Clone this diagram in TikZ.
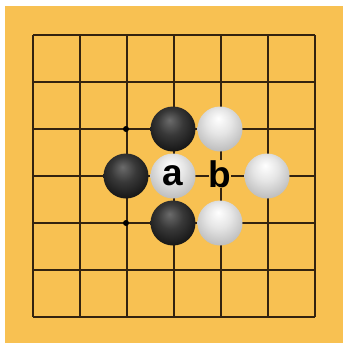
\documentclass[tikz,border=0pt]{standalone}
\usepackage{fontspec}
\setmainfont{Liberation Sans}
\definecolor{board}{HTML}{F8C152}
\definecolor{gridline}{HTML}{34230F}
\pgfdeclareradialshading{blackstone}{\pgfpoint{-4bp}{10bp}}{color(0bp)=(black!58); color(14bp)=(black!78); color(30bp)=(black!92); color(50bp)=(black)}
\pgfdeclareradialshading{whitestone}{\pgfpoint{-2bp}{12bp}}{color(0bp)=(white); color(14bp)=(black!10); color(32bp)=(black!28); color(50bp)=(black!48)}
\tikzset{
  bstone/.style={circle, minimum size=45pt, inner sep=0pt, shading=blackstone},
  wstone/.style={circle, minimum size=45pt, inner sep=0pt, shading=whitestone},
  hoshi/.style={circle, fill=black, minimum size=6pt, inner sep=0pt},
  letter/.style={font=\fontsize{37}{37}\selectfont\bfseries, text=black, inner sep=0pt},
  grid line/.style={draw=gridline, line width=1.7pt}
}
\begin{document}
\begin{tikzpicture}[x=1pt,y=-1pt]
\useasboundingbox (0,0) rectangle (343,343);
\fill[white] (0,0) rectangle (343,343);
\fill[board] (5,6) rectangle (343,343);
\foreach \i in {0,...,6} {
  \draw[grid line] ({33+47*\i},35) -- ({33+47*\i},317);
  \draw[grid line] (33,{35+47*\i}) -- (315,{35+47*\i});
}
\node[hoshi] (d1) at (126,129) {};
\node[hoshi] (d2) at (126,223) {};
\node[bstone] (b1) at (173,129) {};
\node[bstone] (b2) at (126,176) {};
\node[bstone] (b3) at (173,223) {};
\node[wstone] (w1) at (220,129) {};
\node[wstone] (w2) at (267,176) {};
\node[wstone] (w3) at (220,223) {};
\node[wstone] (wa) at (173,176) {};
\node[letter] (la) at (173,176) {a};
\node[fill=board, inner sep=1pt, letter] (lb) at (220,174) {b};
\end{tikzpicture}
\end{document}
